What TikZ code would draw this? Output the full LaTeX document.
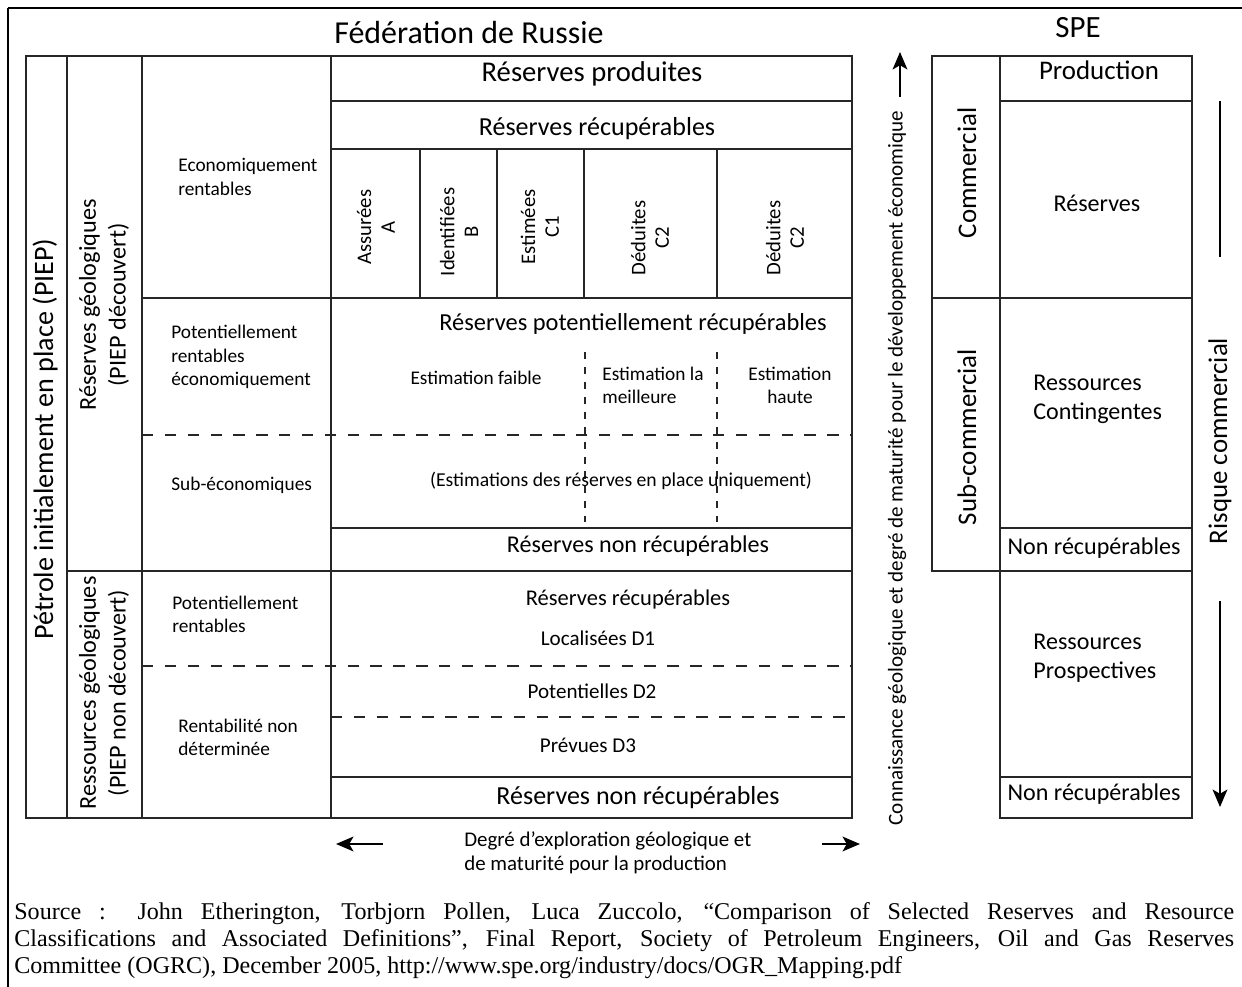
\documentclass[tikz,border=0pt]{standalone}
\usepackage{fontspec}
\setmainfont{Carlito}
\newfontfamily\srcfont{Liberation Serif}
\usepackage{tikz}
\usetikzlibrary{arrows.meta,positioning,calc}

\begin{document}
\begin{tikzpicture}[x=0.02cm, y=-0.02cm, every node/.style={inner sep=0pt},
  rule/.style={line width=0.75pt, draw=black!85},
  hdash/.style={rule, dash pattern=on 6.5pt off 6.5pt},
  vdash/.style={rule, line width=0.6pt, dash pattern=on 4pt off 4.5pt},
  big/.style={font=\fontsize{15.3}{18}\selectfont},
  hdr/.style={font=\fontsize{14.8}{17}\selectfont},
  lbl/.style={font=\fontsize{13.7}{16.5}\selectfont, align=left},
  sml/.style={font=\fontsize{11}{13.2}\selectfont, align=left},
  col/.style={font=\fontsize{11.8}{13.5}\selectfont, align=center, rotate=90},
  axis/.style={-{Stealth[length=10pt,width=8.5pt,inset=2.5pt]}, line width=0.8pt}]
  \useasboundingbox (0,0) rectangle (1242,987);
  % outer frame
  \draw[line width=1.1pt] (8,987) -- (8,8);
  \draw[line width=0.8pt] (8,8) -- (1242,8);
  % titles
  \node[font=\fontsize{18.2}{20}\selectfont] (fed) at (469,33) {Fédération de Russie};
  \node[font=\fontsize{17.6}{20}\selectfont] (spe) at (1078,28) {SPE};

  % Russian grid
  \draw[rule] (26,56) rectangle (852,818);
  \draw[rule] (67,56) -- (67,818);
  \draw[rule] (142,56) -- (142,818);
  \draw[rule] (331,56) -- (331,818);
  \draw[rule] (331,101) -- (852,101);
  \draw[rule] (331,149) -- (852,149);
  \foreach \x in {420,497,584,717}
    \draw[rule] (\x,149) -- (\x,298);
  \draw[rule] (142,298) -- (852,298);
  \draw[rule] (331,528) -- (852,528);
  \draw[rule] (67,571) -- (852,571);
  \draw[rule] (331,777) -- (852,777);
  \draw[hdash] (142,435) -- (852,435);
  \foreach \x in {585,717}
    \draw[vdash] (\x,352) -- (\x,522);
  \draw[hdash] (142,666) -- (852,666);
  \draw[hdash] (331,717) -- (852,717);

  % rotated side columns
  \node[font=\fontsize{16}{19}\selectfont, rotate=90] (piep) at (45,439) {Pétrole initialement en place (PIEP)};
  \node[font=\fontsize{13.8}{17}\selectfont, rotate=90, align=center] (rgeo) at (104,305) {Réserves géologiques\\(PIEP découvert)};
  \node[font=\fontsize{13.8}{17}\selectfont, rotate=90, align=center] (resgeo) at (104,693) {Ressources géologiques\\(PIEP non découvert)};

  % economic classes
  \node[sml, anchor=west] (eco) at (178,177) {Economiquement\\rentables};
  \node[sml, anchor=west] (potec) at (171,357) {Potentiellement\\rentables\\économiquement};
  \node[sml, anchor=west] (subeco) at (171,485) {Sub-économiques};
  \node[sml, anchor=west] (potr) at (172,614) {Potentiellement\\rentables};
  \node[sml, anchor=west] (rnd) at (178,737) {Rentabilité non\\déterminée};

  % reserves
  \node[font=\fontsize{16.3}{18}\selectfont] (prod) at (592,74) {Réserves produites};
  \node[hdr] (recup) at (597,129) {Réserves récupérables};
  \node[col] (ca) at (376,227) {Assurées\\A};
  \node[col] (cb) at (459,232) {Identifiées\\B};
  \node[col] (cc) at (540,227) {Estimées\\C1};
  \node[col] (cd) at (650,238) {Déduites\\C2};
  \node[col] (ce) at (785,238) {Déduites\\C2};
  \node[font=\fontsize{13.9}{16}\selectfont] (potrec) at (633,324) {Réserves potentiellement récupérables};
  \node[sml] (efaib) at (476,378) {Estimation faible};
  \node[sml, anchor=west] (emeil) at (602,385) {Estimation la\\meilleure};
  \node[sml, align=center] (ehaut) at (790,385) {Estimation\\haute};
  \node[font=\fontsize{11.2}{13}\selectfont] (enpl) at (621,481) {(Estimations des réserves en place uniquement)};
  \node[font=\fontsize{13.7}{16}\selectfont] (nrec1) at (638,546) {Réserves non récupérables};
  \node[font=\fontsize{12.8}{15}\selectfont] (recup2) at (628,600) {Réserves récupérables};
  \node[font=\fontsize{12}{14}\selectfont] (d1) at (598,638) {Localisées D1};
  \node[font=\fontsize{12}{14}\selectfont] (d2) at (592,691) {Potentielles D2};
  \node[font=\fontsize{12}{14}\selectfont] (d3) at (588,745) {Prévues D3};
  \node[hdr] (nrec2) at (638,798) {Réserves non récupérables};

  % bottom axis
  \node[font=\fontsize{11.9}{13.8}\selectfont, align=left, anchor=west] (explo) at (464,853) {Degré d’exploration géologique et\\de maturité pour la production};
  \coordinate (lt) at (383,844);
  \coordinate (lh) at (336,844);
  \coordinate (rt) at (822,844);
  \coordinate (rh) at (860,844);
  \draw[axis] (lt) -- (lh);
  \draw[axis] (rt) -- (rh);

  % vertical axis
  \node[font=\fontsize{12}{14}\selectfont, rotate=90] (conn) at (897,468) {Connaissance géologique et degré de maturité pour le développement économique};
  \coordinate (ut) at (900,97);
  \coordinate (uh) at (900,52);
  \draw[axis] (ut) -- (uh);

  % SPE grid
  \draw[rule] (932,56) rectangle (1000,571);
  \draw[rule] (1000,56) rectangle (1192,818);
  \draw[rule] (1000,101) -- (1192,101);
  \draw[rule] (932,298) -- (1192,298);
  \draw[rule] (1000,528) -- (1192,528);
  \draw[rule] (1000,571) -- (1192,571);
  \draw[rule] (1000,777) -- (1192,777);
  \node[big, rotate=90] (com) at (967,173) {Commercial};
  \node[big, rotate=90] (subcom) at (967,437) {Sub-commercial};
  \node[big] (sprod) at (1099,70) {Production};
  \node[lbl] (sres) at (1097,203) {Réserves};
  \node[lbl, anchor=west] (scont) at (1033,399) {Ressources\\Contingentes};
  \node[lbl] (snr1) at (1094,548) {Non récupérables};
  \node[lbl, anchor=west] (sprosp) at (1033,658) {Ressources\\Prospectives};
  \node[lbl] (snr2) at (1094,794) {Non récupérables};

  % commercial risk
  \node[big, rotate=90] (risk) at (1220,441) {Risque commercial};
  \coordinate (rk1) at (1220,101);
  \coordinate (rk2) at (1220,257);
  \draw[line width=0.8pt] (rk1) -- (rk2);
  \coordinate (rk3) at (1220,601);
  \coordinate (rk4) at (1220,807);
  \draw[axis] (rk3) -- (rk4);

  % source
  \node[anchor=north west, text width=24.4cm, align=justify, font=\srcfont\fontsize{13.7}{15.4}\selectfont] (src) at (14,902) {Source : John Etherington, Torbjorn Pollen, Luca Zuccolo, “Comparison of Selected Reserves and Resource\linebreak Classifications and Associated Definitions”, Final Report, Society of Petroleum Engineers, Oil and Gas Reserves\linebreak Committee (OGRC), December 2005, http://www.spe.org/industry/docs/OGR\_Mapping.pdf};
\end{tikzpicture}
\end{document}
